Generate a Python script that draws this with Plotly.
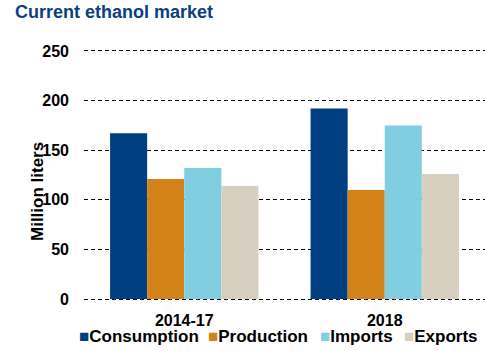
import plotly.graph_objects as go

categories = ["2014-17", "2018"]
series_names = ["Consumption", "Production", "Imports", "Exports"]
consumption = [167, 192]
production = [121, 110]
imports = [132, 175]
exports = [114, 126]
y_ticks = [0, 50, 100, 150, 200, 250]

colors = ["#023F80", "#D3821A", "#80CEDF", "#D9CFC1"]
values = [consumption, production, imports, exports]

FONT = "Liberation Sans, Arial, sans-serif"

fig = go.Figure()
for name, vals, col in zip(series_names, values, colors):
    fig.add_trace(go.Bar(x=categories, y=vals, name=name, marker=dict(color=col, line=dict(width=0))))

# plot area: value 0 at y=299px, 250 at y=51px; range padded so edge gridlines are drawn
PT, PB = 49, 301
fig.update_layout(
    width=486, height=351,
    margin=dict(l=84, r=1, t=PT, b=351 - PB, autoexpand=False),
    paper_bgcolor="white", plot_bgcolor="white",
    barmode="group", bargap=0.26, bargroupgap=0,
    font=dict(family=FONT, size=16, color="black", weight="bold"),
    title=dict(text="Current ethanol market", x=0, xref="container", xanchor="left", y=0.985, yanchor="top",
               pad=dict(l=15),
               font=dict(family=FONT, size=18, color="#0B3F7F", weight="bold")),
    showlegend=False,
    xaxis=dict(showline=False, ticks="", tickfont=dict(size=16, weight="bold"), ticklabelstandoff=8),
    yaxis=dict(range=[-2, 252], tickvals=y_ticks, showgrid=True, gridcolor="black", gridwidth=1,
               griddash="4px,3px", zeroline=False, showline=False, ticks="",
               ticklabelstandoff=14, tickfont=dict(size=16, weight="bold")),
)

def py(pix):
    return (PB - pix) / (PB - PT)

def px(pix):
    return (pix - 84) / (486 - 1 - 84)

fig.add_annotation(text="Million liters", xref="paper", yref="paper", x=px(37), y=py(192),
                   textangle=-90, showarrow=False, xanchor="center", yanchor="middle",
                   font=dict(family=FONT, size=17, weight="bold", color="black"))

# legend drawn as text entries with coloured square glyphs
legend_x = [77, 206, 318, 402]  # left pixel positions of each entry
for name, col, lx in zip(series_names, colors, legend_x):
    fig.add_annotation(
        text=f"<span style='color:{col}'>■</span>{name}",
        xref="paper", yref="paper", x=px(lx), y=py(336),
        xanchor="left", yanchor="middle", showarrow=False,
        font=dict(family=FONT, size=17, weight="bold", color="black"))

fig.write_html("out.html")
